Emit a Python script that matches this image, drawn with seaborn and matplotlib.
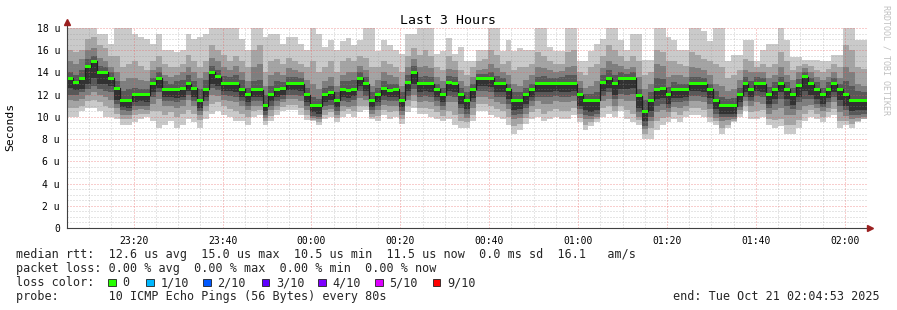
import numpy as np
import pandas as pd
import matplotlib
matplotlib.use("Agg")
import matplotlib.pyplot as plt
import seaborn as sns
from matplotlib.patches import Rectangle

# ---------------- data ----------------
start_minute = 5.0          # 23:05, minutes after 23:00
step_minutes = 80 / 60      # one ping round every 80 s

median = [13.5, 13.1, 13.5, 14.5, 15.0, 14.0, 14.0, 13.5, 12.6, 11.5,
          11.5, 12.0, 12.0, 12.0, 13.0, 13.5, 12.5, 12.5, 12.45, 12.6,
          13.0, 12.6, 11.5, 12.5, 14.0, 13.6, 13.0, 13.0, 13.0, 12.5,
          12.0, 12.5, 12.45, 11.0, 12.0, 12.5, 12.55, 13.0, 13.0, 13.0,
          12.0, 11.0, 11.0, 12.0, 12.2, 11.5, 12.5, 12.4, 12.5, 13.5,
          13.0, 11.5, 12.0, 12.6, 12.4, 12.5, 11.5, 13.1, 14.0, 13.0,
          13.0, 13.0, 12.5, 12.0, 13.1, 13.0, 12.0, 11.5, 12.5, 13.5,
          13.5, 13.5, 13.0, 13.0, 12.5, 11.5, 11.5, 12.0, 12.5, 13.0,
          13.0, 13.0, 13.0, 13.0, 13.0, 13.0, 12.0, 11.5, 11.5, 11.5,
          13.1, 13.5, 13.0, 13.5, 13.45, 13.5, 11.9, 10.5, 11.5, 12.5,
          12.6, 12.0, 12.5, 12.45, 12.5, 13.0, 13.0, 13.0, 12.5, 11.5,
          11.0, 11.0, 11.0, 12.0, 13.0, 12.5, 13.05, 13.0, 12.0, 12.5,
          13.0, 12.5, 12.0, 12.8, 13.6, 13.0, 12.5, 12.0, 12.5, 13.0,
          12.5, 12.0, 11.5, 11.5, 11.5]

loss = [0] * 135

p10 = [18.5, 18.5, 18.5, 18.5, 18.5, 17.5, 17.5, 16.6, 18.5, 18.5,
       18.5, 17.5, 17.2, 17.0, 16.6, 17.5, 16.0, 16.0, 15.8, 16.0,
       17.5, 17.0, 17.2, 17.5, 18.5, 18.5, 18.5, 18.5, 18.5, 17.0,
       16.0, 18.5, 18.5, 17.2, 17.5, 17.5, 16.6, 17.2, 17.2, 16.6,
       16.0, 18.5, 17.5, 16.3, 16.9, 16.0, 16.8, 17.1, 16.5, 16.9,
       18.5, 18.5, 15.9, 16.9, 16.5, 16.0, 15.7, 17.5, 17.5, 18.5,
       18.5, 18.5, 15.7, 15.9, 17.1, 15.7, 16.3, 15.0, 15.0, 16.0,
       16.0, 18.5, 18.5, 15.9, 16.9, 15.9, 16.2, 16.0, 16.0, 18.5,
       18.5, 16.3, 15.9, 15.9, 18.5, 18.5, 15.0, 15.0, 15.9, 16.6,
       17.0, 18.5, 18.5, 16.9, 16.0, 17.5, 17.5, 15.1, 15.1, 18.5,
       18.5, 17.2, 16.9, 16.0, 16.0, 18.5, 18.5, 17.7, 16.8, 18.5,
       18.5, 15.0, 15.6, 15.6, 16.9, 16.9, 15.0, 16.0, 16.6, 16.6,
       18.5, 16.9, 15.4, 15.4, 15.1, 15.1, 15.1, 15.0, 15.0, 15.6,
       15.6, 18.5, 18.5, 16.9, 16.9]

p9 = [16.0, 15.8, 16.0, 17.0, 17.2, 16.5, 16.2, 15.5, 15.5, 14.5,
      14.8, 15.0, 14.6, 14.2, 15.0, 15.5, 14.8, 14.5, 14.5, 14.8,
      15.6, 15.0, 14.5, 15.0, 16.5, 16.0, 15.6, 15.0, 15.5, 15.0,
      14.5, 16.0, 16.5, 14.0, 15.0, 15.2, 14.8, 15.3, 15.0, 14.8,
      14.5, 15.0, 14.0, 14.5, 15.0, 14.0, 15.0, 15.3, 15.0, 15.5,
      15.3, 14.5, 14.5, 15.0, 14.8, 14.5, 14.0, 15.5, 16.2, 15.6,
      16.0, 15.5, 14.5, 14.2, 15.5, 15.0, 14.2, 13.8, 14.5, 15.0,
      15.2, 16.0, 15.6, 14.8, 15.0, 14.2, 14.5, 14.5, 14.8, 15.8,
      15.5, 15.0, 14.8, 14.8, 15.8, 16.0, 14.0, 13.8, 14.5, 14.8,
      15.5, 16.5, 16.0, 15.5, 15.0, 15.5, 15.0, 13.8, 14.0, 16.0,
      15.8, 15.0, 15.0, 14.8, 14.6, 15.8, 15.6, 15.2, 15.0, 14.8,
      14.5, 13.5, 13.8, 14.2, 15.2, 15.0, 14.5, 14.8, 14.5, 14.8,
      15.8, 15.0, 14.2, 14.6, 14.8, 14.6, 14.2, 14.0, 14.3, 14.8,
      14.5, 16.5, 16.0, 14.5, 14.3]

p8 = [15.0, 14.8, 15.2, 16.0, 16.2, 15.3, 15.0, 14.5, 14.0, 13.2,
      13.5, 13.5, 13.3, 13.2, 14.2, 14.5, 13.8, 13.6, 13.8, 14.0,
      14.5, 14.0, 13.5, 14.0, 15.3, 15.0, 14.5, 14.2, 14.6, 14.0,
      13.2, 14.5, 14.8, 12.8, 13.8, 14.0, 13.8, 14.4, 14.2, 14.0,
      13.3, 13.0, 12.5, 13.2, 13.6, 12.8, 13.8, 14.0, 14.0, 14.6,
      14.2, 12.8, 13.3, 14.0, 13.8, 13.6, 12.8, 14.5, 15.2, 14.5,
      14.6, 14.4, 13.6, 13.2, 14.3, 14.2, 13.2, 12.8, 13.6, 14.2,
      14.3, 14.8, 14.4, 14.0, 13.8, 13.0, 12.8, 13.3, 13.8, 14.5,
      14.4, 14.2, 14.0, 14.1, 14.5, 14.6, 13.2, 12.6, 12.8, 13.2,
      14.4, 15.0, 14.8, 14.6, 14.3, 14.5, 13.6, 12.5, 13.0, 14.8,
      14.6, 13.6, 13.8, 13.8, 13.6, 14.5, 14.4, 14.2, 13.8, 13.0,
      12.8, 12.3, 12.5, 13.3, 14.2, 14.0, 14.0, 14.0, 13.5, 13.8,
      14.5, 13.8, 13.3, 14.0, 14.4, 14.0, 13.6, 13.3, 13.6, 14.0,
      13.5, 14.5, 14.0, 13.0, 12.8]

p7 = [14.0, 13.8, 14.2, 15.2, 15.5, 14.6, 14.5, 14.0, 13.2, 12.3,
      12.5, 12.6, 12.5, 12.5, 13.5, 14.0, 13.2, 13.0, 13.2, 13.3,
      13.8, 13.2, 12.5, 13.3, 14.6, 14.2, 13.7, 13.6, 13.8, 13.3,
      12.6, 13.2, 13.3, 12.0, 12.8, 13.2, 13.1, 13.6, 13.6, 13.5,
      12.6, 11.8, 11.6, 12.6, 12.8, 12.2, 13.2, 13.2, 13.3, 14.0,
      13.6, 12.2, 12.6, 13.2, 13.0, 13.0, 12.2, 13.8, 14.6, 13.6,
      13.7, 13.6, 13.0, 12.6, 13.7, 13.6, 12.6, 12.2, 13.0, 13.9,
      13.9, 14.0, 13.7, 13.5, 13.0, 12.2, 12.2, 12.6, 13.0, 13.6,
      13.7, 13.5, 13.5, 13.6, 13.8, 13.8, 12.6, 12.1, 12.1, 12.2,
      13.8, 14.2, 13.8, 14.0, 13.9, 14.0, 12.5, 11.5, 12.2, 13.5,
      13.4, 12.7, 13.1, 13.0, 13.0, 13.6, 13.6, 13.5, 13.0, 12.3,
      11.8, 11.6, 11.7, 12.6, 13.6, 13.2, 13.6, 13.5, 12.7, 13.1,
      13.6, 13.1, 12.6, 13.4, 14.0, 13.5, 13.1, 12.6, 13.1, 13.5,
      13.0, 13.2, 12.8, 12.3, 12.2]

p5 = [12.6, 12.4, 12.5, 13.0, 13.5, 13.0, 13.0, 12.8, 11.5, 10.9,
      10.8, 11.3, 11.4, 11.3, 12.2, 12.6, 11.8, 11.8, 11.7, 11.8,
      12.3, 11.8, 10.8, 11.8, 13.0, 12.8, 12.3, 12.3, 12.2, 11.8,
      11.3, 11.8, 11.8, 10.5, 11.4, 11.8, 12.0, 12.4, 12.4, 12.3,
      11.3, 10.4, 10.3, 11.3, 11.5, 10.9, 11.8, 11.7, 11.9, 12.8,
      12.3, 10.9, 11.3, 11.9, 11.8, 11.8, 10.9, 12.3, 13.0, 12.2,
      12.3, 12.2, 11.8, 11.3, 12.3, 12.2, 11.2, 10.7, 11.7, 12.8,
      12.8, 12.7, 12.2, 12.2, 11.6, 10.6, 10.7, 11.2, 11.8, 12.2,
      12.2, 12.2, 12.3, 12.2, 12.2, 12.3, 11.0, 10.6, 10.4, 10.6,
      12.3, 12.6, 12.0, 12.5, 12.5, 12.6, 10.8, 9.6, 10.5, 11.6,
      11.7, 11.2, 11.7, 11.7, 11.8, 12.3, 12.3, 12.2, 11.7, 10.7,
      10.3, 10.3, 10.3, 11.3, 12.2, 11.8, 12.3, 12.2, 11.2, 11.6,
      12.2, 11.6, 11.1, 11.8, 12.3, 12.0, 11.6, 11.2, 11.7, 12.2,
      11.5, 11.0, 10.5, 10.6, 10.6]

p4 = [12.0, 12.0, 12.2, 12.5, 12.8, 12.5, 12.3, 12.2, 11.2, 10.6,
      10.5, 11.0, 11.0, 11.0, 11.8, 12.2, 11.4, 11.4, 11.3, 11.5,
      12.0, 11.4, 10.5, 11.4, 12.6, 12.4, 12.0, 11.9, 11.8, 11.4,
      11.0, 11.4, 11.4, 10.2, 11.0, 11.4, 11.6, 12.0, 12.0, 11.9,
      11.0, 10.1, 10.0, 11.0, 11.1, 10.5, 11.4, 11.3, 11.5, 12.3,
      11.9, 10.6, 11.0, 11.5, 11.4, 11.4, 10.5, 11.9, 12.5, 11.8,
      11.9, 11.8, 11.4, 11.0, 11.9, 11.8, 10.8, 10.3, 11.3, 12.3,
      12.3, 12.2, 11.8, 11.8, 11.2, 10.2, 10.3, 10.8, 11.4, 11.8,
      11.8, 11.8, 11.9, 11.8, 11.8, 11.9, 10.7, 10.2, 10.1, 10.3,
      11.9, 12.2, 11.6, 12.1, 12.0, 12.1, 10.4, 9.2, 10.0, 11.0,
      11.2, 10.8, 11.3, 11.3, 11.4, 11.9, 11.9, 11.8, 11.2, 10.3,
      10.0, 10.0, 10.0, 10.9, 11.8, 11.4, 11.9, 11.8, 10.8, 11.2,
      11.6, 11.0, 10.7, 11.3, 11.6, 11.6, 11.2, 10.9, 11.3, 11.8,
      11.0, 10.6, 10.2, 10.2, 10.3]

p3 = [11.5, 11.4, 11.6, 12.0, 12.2, 12.0, 11.8, 11.5, 10.8, 10.2,
      10.2, 10.6, 10.7, 10.6, 11.2, 11.6, 11.0, 11.0, 10.8, 11.0,
      11.5, 11.0, 10.2, 11.0, 12.0, 11.9, 11.5, 11.4, 11.3, 11.0,
      10.6, 11.0, 11.0, 9.9, 10.6, 11.0, 11.3, 11.6, 11.6, 11.4,
      10.6, 9.9, 9.8, 10.6, 10.7, 10.2, 11.0, 10.9, 11.0, 11.7,
      11.5, 10.3, 10.6, 11.1, 11.0, 11.0, 10.2, 11.5, 12.0, 11.3,
      11.4, 11.3, 11.0, 10.6, 11.3, 11.3, 10.3, 9.9, 10.8, 11.8,
      11.8, 11.6, 11.3, 11.2, 10.7, 9.8, 9.9, 10.3, 11.0, 11.4,
      11.2, 11.2, 11.4, 11.3, 11.3, 11.4, 10.3, 9.8, 9.8, 10.0,
      11.4, 11.6, 11.0, 11.6, 11.4, 11.4, 10.0, 8.9, 9.6, 10.4,
      10.6, 10.4, 10.9, 10.8, 11.0, 11.4, 11.4, 11.3, 10.7, 9.9,
      9.6, 9.7, 9.8, 10.6, 11.4, 11.0, 11.3, 11.2, 10.3, 10.6,
      10.8, 10.2, 10.2, 10.6, 11.0, 11.1, 10.8, 10.5, 10.8, 11.3,
      10.4, 10.1, 9.8, 9.9, 10.0]

p2 = [10.8, 10.8, 11.0, 11.4, 11.5, 11.3, 11.0, 10.8, 10.3, 9.8,
      9.8, 10.2, 10.3, 10.3, 10.5, 10.5, 10.2, 10.4, 10.0, 10.3,
      10.6, 10.3, 9.7, 10.5, 11.2, 11.3, 11.0, 10.7, 10.5, 10.3,
      10.0, 10.5, 10.6, 9.6, 10.1, 10.6, 10.9, 11.1, 11.1, 10.8,
      10.2, 9.7, 9.5, 10.2, 10.4, 9.9, 10.5, 10.7, 10.5, 11.0,
      11.0, 10.0, 10.1, 10.6, 10.4, 10.5, 9.8, 11.0, 11.4, 10.8,
      10.8, 10.7, 10.4, 10.1, 10.5, 10.2, 9.6, 9.5, 10.2, 11.2,
      11.2, 11.0, 10.7, 10.5, 10.0, 9.2, 9.4, 9.9, 10.4, 10.7,
      10.3, 10.5, 10.7, 10.5, 10.5, 10.8, 9.9, 9.3, 9.5, 9.8,
      10.8, 11.0, 10.5, 11.0, 10.6, 10.3, 9.7, 8.5, 9.0, 9.6,
      9.9, 10.0, 10.4, 10.2, 10.5, 10.8, 10.8, 10.6, 10.0, 9.6,
      9.0, 9.3, 9.6, 10.3, 11.0, 10.4, 10.5, 10.6, 9.8, 9.7,
      9.8, 9.3, 9.3, 9.7, 10.3, 10.6, 10.3, 10.0, 10.4, 10.7,
      9.6, 9.6, 9.4, 9.6, 9.8]

p1 = [10.0, 10.0, 10.5, 10.8, 10.8, 10.5, 10.0, 10.0, 9.8, 9.3,
      9.3, 9.5, 9.8, 10.0, 9.6, 9.0, 9.3, 9.6, 9.0, 9.3,
      9.8, 9.5, 9.0, 9.8, 10.3, 10.5, 10.2, 10.0, 9.6, 9.6,
      9.3, 10.0, 10.2, 9.3, 9.6, 10.2, 10.5, 10.6, 10.6, 10.2,
      9.7, 9.6, 9.3, 9.8, 10.0, 9.5, 10.0, 10.3, 10.0, 10.4,
      10.6, 9.8, 9.6, 10.2, 9.8, 10.0, 9.4, 10.4, 10.8, 10.3,
      10.3, 10.0, 9.8, 9.6, 9.8, 9.3, 9.0, 9.0, 9.6, 10.5,
      10.5, 10.2, 10.0, 9.8, 9.3, 8.5, 8.8, 9.4, 9.8, 10.0,
      9.6, 9.8, 10.0, 9.8, 9.8, 10.2, 9.5, 8.8, 9.2, 9.5,
      10.0, 10.3, 10.0, 10.5, 9.8, 9.5, 9.3, 8.0, 8.0, 8.8,
      9.3, 9.5, 9.8, 9.5, 10.0, 10.2, 10.2, 10.0, 9.5, 9.3,
      8.5, 9.0, 9.5, 10.0, 10.5, 9.8, 9.8, 10.0, 9.3, 9.0,
      9.2, 8.5, 8.5, 9.0, 9.6, 10.0, 9.8, 9.5, 10.0, 10.2,
      9.0, 9.3, 9.0, 9.5, 10.0]

tick_minutes = [20, 40, 60, 80, 100, 120, 140, 160, 180]
tick_labels = ["23:20", "23:40", "00:00", "00:20", "00:40",
               "01:00", "01:20", "01:40", "02:00"]
y_ticks = [0, 2, 4, 6, 8, 10, 12, 14, 16, 18]
y_tick_labels = ["0", "2 u", "4 u", "6 u", "8 u", "10 u", "12 u",
                 "14 u", "16 u", "18 u"]

loss_labels = ["0", "1/10", "2/10", "3/10", "4/10", "5/10", "9/10"]
loss_colors = ["#26ff00", "#00b8ff", "#0059ff", "#5e00ff", "#7e00ff",
               "#dd00ff", "#ff0000"]

legend_median = "median rtt:  12.6 us avg  15.0 us max  10.5 us min  11.5 us now  0.0 ms sd  16.1   am/s"
legend_loss = "packet loss: 0.00 % avg  0.00 % max  0.00 % min  0.00 % now"
legend_probe = "probe:       10 ICMP Echo Pings (56 Bytes) every 80s"
legend_end = "end: Tue Oct 21 02:04:53 2025"

# ---------------- drawing ----------------
sns.set_style("white")
plt.rcParams["font.family"] = ["DejaVu Sans Mono"]

W, H = 897, 310
fig = plt.figure(figsize=(W / 100, H / 100), dpi=100)
fig.patch.set_facecolor("white")
ax = fig.add_axes([67 / W, 1 - 228 / H, 800 / W, 200 / H])
ax.set_facecolor("white")

n = len(median)
t_edges = start_minute + step_minutes * np.arange(n + 1)


def ext(a):
    a = np.asarray(a, dtype=float)
    return np.append(a, a[-1])


smoke = [(p1, p10, "#cacaca"), (p2, p9, "#a4a4a4"), (p3, p8, "#7e7e7e"),
         (p4, p7, "#585858"), (p5, median, "#323232")]
for i, (lo, hi, col) in enumerate(smoke):
    ax.fill_between(t_edges, ext(lo), ext(hi), step="post", color=col,
                    linewidth=0, zorder=1 + 0.1 * i, antialiased=False)

df = pd.DataFrame({"t": t_edges, "rtt": ext(median)})
sns.lineplot(data=df, x="t", y="rtt", drawstyle="steps-post",
             color="#202020", linewidth=0.9, ax=ax, zorder=3,
             estimator=None, sort=False)

med = ext(median)
lcol = [loss_colors[v] for v in loss]
ax.fill_between(t_edges, med - 0.135, med + 0.135, step="post",
                color=lcol[0], linewidth=0, zorder=4, antialiased=False)

ax.set_xlim(start_minute, start_minute + n * step_minutes)
ax.set_ylim(0, 18)
ax.set_xticks(tick_minutes)
ax.set_xticklabels(tick_labels)
ax.set_xticks(np.arange(5, 186, 5), minor=True)
ax.set_yticks(y_ticks)
ax.set_yticklabels(y_tick_labels)
ax.set_yticks(np.arange(0, 18.01, 0.5), minor=True)
ax.set_xlabel("")
ax.set_ylabel("")

ax.set_axisbelow(False)
ax.grid(which="minor", color="#8f8f8f", alpha=0.45, linewidth=0.72,
        linestyle=(0, (1, 2)))
ax.grid(which="major", color="#e95a5a", alpha=0.6, linewidth=0.72,
        linestyle=(0, (1, 2)))

ax.tick_params(axis="both", which="major", length=3, width=0.7,
               color="#404040", direction="out", labelsize=7,
               labelcolor="#000000")
ax.tick_params(axis="y", which="major", pad=2)
ax.tick_params(axis="x", which="major", pad=2.5)
ax.tick_params(which="minor", length=0)

for s in ["top", "right"]:
    ax.spines[s].set_visible(False)
for s in ["left", "bottom"]:
    ax.spines[s].set_color("#404040")
    ax.spines[s].set_linewidth(0.8)
    ax.spines[s].set_zorder(6)

# axis arrows
ax.plot([0, 0], [1, 1.03], transform=ax.transAxes, clip_on=False,
        color="#404040", lw=0.8)
ax.plot([0], [1.03], marker="^", markersize=4, color="#9b2020",
        transform=ax.transAxes, clip_on=False, zorder=7)
ax.plot([1, 1.004], [0, 0], transform=ax.transAxes, clip_on=False,
        color="#404040", lw=0.8)
ax.plot([1.004], [0], marker=">", markersize=4, color="#9b2020",
        transform=ax.transAxes, clip_on=False, zorder=7)

# texts
fig.text(448 / W, 1 - 24 / H, "Last 3 Hours", ha="center", va="baseline",
         fontsize=9.5, color="#000000")
fig.text(10 / W, 1 - 127 / H, "Seconds", rotation=90, ha="center",
         va="center", fontsize=8.2, color="#000000")
fig.text(886 / W, 1 - 60 / H, "RRDTOOL / TOBI OETIKER", rotation=270,
         ha="center", va="center", fontsize=6, color="#c0c0c0")

fs = 8.43
fig.text(16 / W, 1 - 258 / H, legend_median, ha="left", va="baseline", fontsize=fs)
fig.text(16 / W, 1 - 272 / H, legend_loss, ha="left", va="baseline", fontsize=fs)
fig.text(16 / W, 1 - 286 / H, "loss color:", ha="left", va="baseline", fontsize=fs)
box_x = [108.3, 146, 203.3, 261.7, 318.3, 375, 432.7]
for bx, lab, col in zip(box_x, loss_labels, loss_colors):
    fig.patches.append(Rectangle((bx / W, 1 - 286 / H), 7.5 / W, 7.5 / H,
                                 transform=fig.transFigure, facecolor=col,
                                 edgecolor="#202020", linewidth=0.6))
    fig.text((bx + 14.3) / W, 1 - 286 / H, lab, ha="left", va="baseline",
             fontsize=fs)
fig.text(16 / W, 1 - 300 / H, legend_probe, ha="left", va="baseline", fontsize=fs)
fig.text(880 / W, 1 - 300 / H, legend_end, ha="right", va="baseline", fontsize=fs)

fig.savefig("out.png", dpi=100, facecolor="white")
